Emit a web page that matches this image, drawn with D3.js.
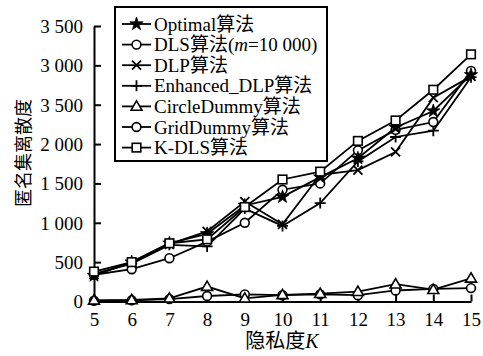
<!DOCTYPE html>
<html><head><meta charset="utf-8">
<script src="https://cdn.jsdelivr.net/npm/d3@7"></script>
<style>
html,body{margin:0;padding:0;background:#fff;}
svg{display:block;}
text{font-family:"Liberation Serif","Times New Roman","Noto Sans CJK SC",serif;fill:#000;}
</style></head>
<body>
<svg id="chart" width="483" height="356"></svg>
<script>
const kValues = [5, 6, 7, 8, 9, 10, 11, 12, 13, 14, 15];
const optimal = [330, 500, 740, 860, 1220, 1330, 1580, 1820, 2210, 2420, 2880];
const dls = [340, 410, 550, 760, 1000, 1420, 1500, 1920, 2180, 2280, 2930];
const dlp = [340, 490, 730, 890, 1270, 980, 1610, 1670, 1900, 2590, 2860];
const enhancedDlp = [350, 480, 720, 700, 1180, 960, 1250, 1780, 2090, 2170, 2850];
const circleDummy = [15, 20, 40, 190, 40, 85, 100, 125, 220, 150, 295];
const gridDummy = [10, 15, 30, 70, 90, 80, 90, 80, 140, 160, 170];
const kdls = [380, 500, 740, 790, 1200, 1550, 1650, 2040, 2300, 2690, 3140];

const yTickValues = [0, 500, 1000, 1500, 2000, 2500, 3000, 3500];
const yTickLabels = ["0", "500", "1 000", "1 500", "2 000", "3 500", "3 000", "3 500"];
const seriesNames = ["Optimal算法", "DLS算法(m=10 000)", "DLP算法", "Enhanced_DLP算法", "CircleDummy算法", "GridDummy算法", "K-DLS算法"];
const seriesMarkers = ["star", "circle", "times", "plus", "triangle", "circle", "square"];
const seriesValues = [optimal, dls, dlp, enhancedDlp, circleDummy, gridDummy, kdls];
const xLabel = "隐私度";
const yLabel = "匿名集离散度";

const svg = d3.select("#chart");
const x = d3.scaleLinear().domain([5, 15]).range([94, 471]);
const y = d3.scaleLinear().domain([0, 3500]).range([301.5, 26]);

// axes
const xAxis = svg.append("g").attr("transform", "translate(0,301.5)")
  .call(d3.axisBottom(x).tickValues(kValues).tickFormat(d3.format("d")).tickSizeInner(-7).tickSizeOuter(0).tickPadding(11));
const yAxis = svg.append("g").attr("transform", "translate(94,0)")
  .call(d3.axisLeft(y).tickValues(yTickValues).tickFormat((d, i) => yTickLabels[i]).tickSizeInner(-7).tickSizeOuter(0).tickPadding(11));
[xAxis, yAxis].forEach(g => {
  g.select(".domain").attr("stroke", "#000").attr("stroke-width", 2);
  g.selectAll(".tick line").attr("stroke", "#000").attr("stroke-width", 2);
  g.selectAll(".tick text").attr("font-size", 19).attr("font-family", "Liberation Serif, Times New Roman, serif");
});
yAxis.selectAll(".tick text").attr("dy", "0.34em");
xAxis.selectAll(".tick text").attr("dy", "0.71em");
yAxis.selectAll(".tick").filter(d => d === 0).select("line").remove();

function drawMarker(g, type, cx, cy) {
  const s = 4.5;
  if (type === "star") {
    g.append("path").attr("d", d3.symbol().type(d3.symbolStar).size(55)())
      .attr("transform", `translate(${cx},${cy})`).attr("fill", "#000").attr("stroke", "#000").attr("stroke-width", 0.8);
  } else if (type === "circle") {
    g.append("circle").attr("cx", cx).attr("cy", cy).attr("r", 4.4)
      .attr("fill", "#fff").attr("stroke", "#000").attr("stroke-width", 1.6);
  } else if (type === "times") {
    g.append("path").attr("d", `M${cx - s},${cy - s}L${cx + s},${cy + s}M${cx - s},${cy + s}L${cx + s},${cy - s}`)
      .attr("stroke", "#000").attr("stroke-width", 1.8).attr("fill", "none");
  } else if (type === "plus") {
    g.append("path").attr("d", `M${cx - s - 1},${cy}L${cx + s + 1},${cy}M${cx},${cy - s - 1}L${cx},${cy + s + 1}`)
      .attr("stroke", "#000").attr("stroke-width", 1.8).attr("fill", "none");
  } else if (type === "triangle") {
    g.append("path").attr("d", `M${cx},${cy - 5.5}L${cx + 5.5},${cy + 3.8}L${cx - 5.5},${cy + 3.8}Z`)
      .attr("fill", "#fff").attr("stroke", "#000").attr("stroke-width", 1.6);
  } else if (type === "square") {
    g.append("rect").attr("x", cx - 4.3).attr("y", cy - 4.3).attr("width", 8.6).attr("height", 8.6)
      .attr("fill", "#fff").attr("stroke", "#000").attr("stroke-width", 1.6);
  }
}

const line = d3.line().x((d, i) => x(kValues[i])).y(d => y(d));
const order = [5, 4, 3, 2, 1, 0, 6];
const plot = svg.append("g");
order.forEach(si => {
  plot.append("path").datum(seriesValues[si]).attr("d", line)
    .attr("fill", "none").attr("stroke", "#000").attr("stroke-width", 1.8);
});
order.forEach(si => {
  seriesValues[si].forEach((v, i) => drawMarker(plot, seriesMarkers[si], x(kValues[i]), y(v)));
});

// legend
const lg = svg.append("g");
lg.append("rect").attr("x", 115).attr("y", 7).attr("width", 212).attr("height", 154)
  .attr("fill", "#fff").attr("stroke", "#000").attr("stroke-width", 2);
seriesNames.forEach((name, i) => {
  const cy = 24 + i * 20.6;
  lg.append("line").attr("x1", 122).attr("x2", 151).attr("y1", cy).attr("y2", cy)
    .attr("stroke", "#000").attr("stroke-width", 1.8);
  drawMarker(lg, seriesMarkers[i], 136.5, cy);
  const t = lg.append("text").attr("x", 154).attr("y", cy).attr("dy", "0.35em").attr("font-size", 19);
  if (i === 1) {
    t.append("tspan").text("DLS算法(");
    t.append("tspan").attr("font-style", "italic").text("m");
    t.append("tspan").text("=10 000)");
  } else {
    t.text(name);
  }
});

// axis titles
const xt = svg.append("text").attr("x", 282).attr("y", 348).attr("text-anchor", "middle").attr("font-size", 20);
xt.append("tspan").text(xLabel);
xt.append("tspan").attr("font-style", "italic").text("K");
svg.append("text").attr("transform", "translate(30,153) rotate(-90)").attr("text-anchor", "middle")
  .attr("font-size", 18).text(yLabel);
</script>
</body></html>
